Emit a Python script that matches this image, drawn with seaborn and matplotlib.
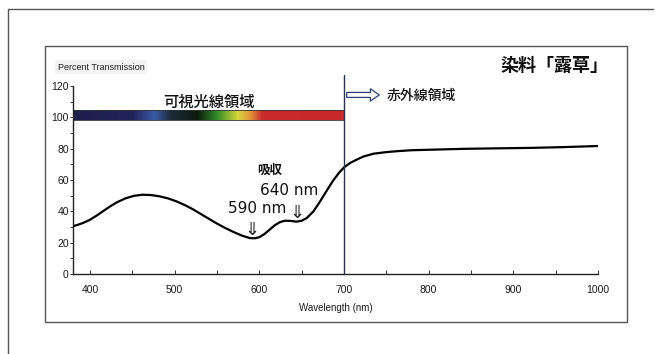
import numpy as np
import pandas as pd
import matplotlib
matplotlib.use("Agg")
import matplotlib.pyplot as plt
import seaborn as sns
from matplotlib.colors import LinearSegmentedColormap
from matplotlib.lines import Line2D
from matplotlib.patches import Rectangle

# ---- data ----
wavelength = [380, 385, 392, 400, 408, 416, 424, 432, 442, 452, 462, 472, 482, 492, 502, 512,
              521, 530, 540, 550, 560, 570, 580, 589, 595, 600, 606, 612, 618, 624, 630,
              637, 644, 650, 656, 664, 672, 680, 687, 694, 700, 707, 715, 723, 735, 750,
              763, 780, 800, 842, 880, 921, 960, 1000]
transmission = [30.5, 31.3, 32.6, 34.6, 37.3, 40.3, 43.2, 45.8, 48.3, 49.9, 50.6, 50.4, 49.6, 48.3, 46.4, 44,
                41.5, 38.6, 35.4, 32.2, 29.3, 26.7, 24.4, 22.9, 22.8, 23.5, 25.5, 28.2, 31, 33, 34,
                33.9, 33.4, 34, 35.7, 40, 46.5, 53.5, 59.5, 64.5, 68, 70.8, 73, 75, 76.8, 77.8,
                78.4, 79, 79.3, 79.9, 80.2, 80.5, 81, 81.7]
x_ticks = [400, 500, 600, 700, 800, 900, 1000]
y_ticks = [0, 20, 40, 60, 80, 100, 120]
title_text = "染料「露草」"
visible_label = "可視光線領域"
ir_label = "赤外線領域"
absorb_label = "吸収"
peak_labels = ["590 nm", "640 nm"]
peak_wl = [591, 644]
visible_range = [380, 700]
boundary_wl = 700

df = pd.DataFrame({"wavelength": wavelength, "transmission": transmission})

sns.set_theme(style="white")
plt.rcParams["font.family"] = ["Liberation Sans", "Noto Sans CJK JP", "DejaVu Sans"]

W, H = 655, 354
fig = plt.figure(figsize=(W / 100, H / 100), dpi=100)
fig.patch.set_facecolor("white")

def fx(px):
    return px / W

def fy(py):
    return 1 - py / H

ax = fig.add_axes([fx(73), fy(274), fx(598) - fx(73), fy(86) - fy(274)])
ax.set_facecolor("none")

sns.lineplot(data=df, x="wavelength", y="transmission", ax=ax, color="black",
             linewidth=1.6, zorder=3)

ax.set_xlim(380, 1000)
ax.set_ylim(0, 120)
ax.set_xticks(x_ticks)
ax.set_yticks(y_ticks)
ax.set_xticks(np.arange(450, 1000, 100), minor=True)
ax.set_yticks(np.arange(10, 120, 20), minor=True)
ax.set_xticklabels([str(v) for v in x_ticks], fontsize=7.5, color="#1a1a1a")
ax.set_yticklabels([str(v) for v in y_ticks], fontsize=7.5, color="#1a1a1a")
ax.tick_params(axis="x", which="both", direction="in", length=3, width=0.7,
               color="#333333", pad=8, bottom=True)
ax.tick_params(axis="y", which="both", direction="out", length=2, width=0.7,
               color="#333333", pad=1, left=True)
ax.set_xlabel("Wavelength (nm)", fontsize=7, color="#1a1a1a", labelpad=6)
ax.set_ylabel("")
for s in ["top", "right"]:
    ax.spines[s].set_visible(False)
for s in ["left", "bottom"]:
    ax.spines[s].set_color("#222222")
    ax.spines[s].set_linewidth(1.0)

# spectrum bar
cmap = LinearSegmentedColormap.from_list(
    "spec",
    [(0.00, "#1e1e4c"), (0.22, "#22245a"), (0.30, "#3a5aa6"), (0.36, "#1b2a3a"),
     (0.46, "#0c1a0c"), (0.53, "#2f8a2a"), (0.61, "#d8d83a"), (0.66, "#e08a3a"),
     (0.70, "#c92a2c"), (1.00, "#c8282a")])
grad = np.linspace(0, 1, 512).reshape(1, -1)
ax.imshow(grad, extent=[visible_range[0], visible_range[1], 98.5, 104.5], aspect="auto",
          cmap=cmap, zorder=2)
ax.add_patch(Rectangle((visible_range[0], 98.5), visible_range[1] - visible_range[0], 6,
                       fill=False, ec="#333333", lw=0.6, zorder=2))
ax.set_xlim(380, 1000)
ax.set_ylim(0, 120)

# boundary line
ax.plot([boundary_wl, boundary_wl], [0, 127], color="#2a3050", lw=1.0, clip_on=False, zorder=3)

# IR arrow
ax.annotate("", xy=(745, 114.3), xytext=(700, 114.3),
            arrowprops=dict(arrowstyle="simple,head_width=1.1,head_length=0.8,tail_width=0.45",
                            fc="white", ec="#2a3f6f", lw=0.9, mutation_scale=8),
            annotation_clip=False)

cjk = ["Noto Sans CJK JP", "DejaVu Sans"]
ax.text(541, 109.8, visible_label, ha="center", va="center", fontsize=11,
        family=cjk, color="#111111", fontweight="medium", clip_on=False)
ax.text(750, 113.6, ir_label, ha="left", va="center", fontsize=10,
        family=cjk, color="#111111", fontweight="medium", clip_on=False)
ax.text(612, 66.4, absorb_label, ha="center", va="center", fontsize=9,
        family=cjk, color="#111111", fontweight="bold")
ax.text(597, 42, peak_labels[0], ha="center", va="center", fontsize=11,
        family=["DejaVu Sans"], color="#111111")
ax.text(635, 53.2, peak_labels[1], ha="center", va="center", fontsize=11,
        family=["DejaVu Sans"], color="#111111")
for w in peak_wl:
    idx = int(np.argmin(np.abs(np.array(wavelength) - w)))
    ax.text(w, transmission[idx] + 5.5, "⇓", ha="center", va="center", fontsize=13,
            family=["DejaVu Sans"], color="#222222")

# title & y label
fig.text(fx(608), fy(65), title_text, ha="right", va="center", fontsize=13,
         family=cjk, fontweight="bold", color="#111111")
fig.text(fx(58), fy(67), "Percent Transmission", ha="left", va="center", fontsize=6.5,
         color="#222222", bbox=dict(boxstyle="square,pad=0.3", fc="#f3f3f3", ec="none"))

# frames
fig.add_artist(Line2D([fx(8), fx(8)], [fy(9), 0], color="#555555", lw=1.0))
fig.add_artist(Line2D([fx(8), fx(653)], [fy(9), fy(9)], color="#555555", lw=1.0))
fig.add_artist(Rectangle((fx(45), fy(322)), fx(627) - fx(45), fy(46) - fy(322),
                         fill=False, ec="#555555", lw=1.0))

fig.savefig("out.png", dpi=100)
